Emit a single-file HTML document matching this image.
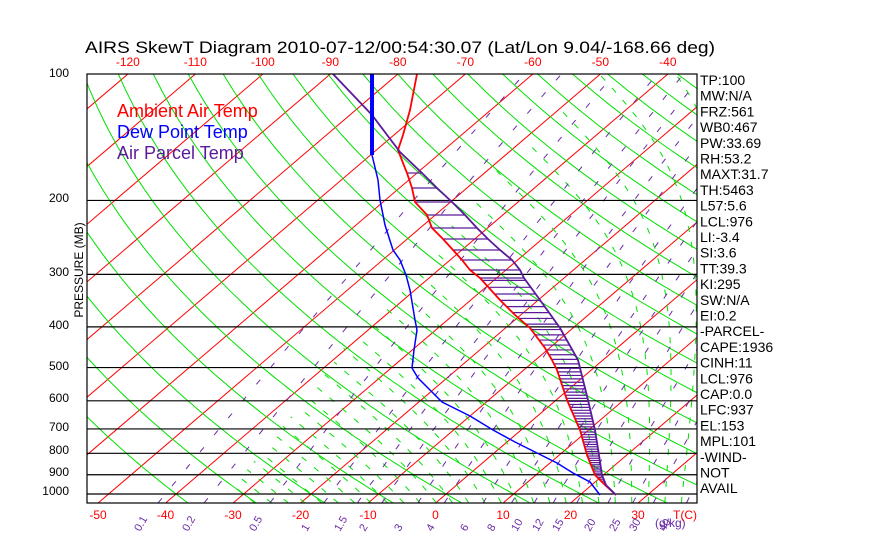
<!DOCTYPE html>
<html><head><meta charset="utf-8">
<style>
html,body{margin:0;padding:0;background:#fff;}
svg{display:block;font-family:"Liberation Sans",sans-serif;}
</style></head>
<body>
<svg id="s" width="870" height="560" xmlns="http://www.w3.org/2000/svg">
<defs><clipPath id="c"><rect x="87" y="74" width="610" height="429"/></clipPath></defs>
<rect width="870" height="560" fill="#fff"/>
<g id="grid" clip-path="url(#c)"></g>
<g id="data" clip-path="url(#c)"></g>
<rect x="87" y="74" width="610" height="429" fill="none" stroke="#000" stroke-width="1.2"/>
<text x="85" y="53" font-size="17" textLength="630" lengthAdjust="spacingAndGlyphs">AIRS SkewT Diagram 2010-07-12/00:54:30.07 (Lat/Lon 9.04/-168.66 deg)</text>
<text x="117" y="117" font-size="18" fill="#ff0000">Ambient Air Temp</text>
<text x="117" y="138" font-size="18" fill="#0000ff">Dew Point Temp</text>
<text x="117" y="159" font-size="18" fill="#5a1a9a">Air Parcel Temp</text>
<text transform="translate(83,270) rotate(-90)" font-size="12" text-anchor="middle">PRESSURE (MB)</text>
<g id="lab"></g>
</svg>
<script>
var NS="http://www.w3.org/2000/svg";
var X0=98,DX=6.75,S=1.171,YB=503,K=182.4;
function Y(p){return 74+K*Math.log(p/100);}
function X(T,p){return X0+DX*(T+50)+S*(YB-Y(p));}
var g=document.getElementById('grid'),d=document.getElementById('data'),lab=document.getElementById('lab');
function el(par,tag,at,txt){var e=document.createElementNS(NS,tag);for(var k in at)e.setAttribute(k,at[k]);if(txt!==undefined)e.textContent=txt;par.appendChild(e);return e;}
function pl(par,pts,st,w,da){var s=pts.map(function(q){return q[0].toFixed(1)+","+q[1].toFixed(1)}).join(" ");var a={points:s,fill:"none",stroke:st,"stroke-width":w};if(da)a["stroke-dasharray"]=da;el(par,"polyline",a);}
for(var T=-160;T<=50;T+=10){pl(g,[[X(T,1050),YB],[X(T,100),74]],"#ff0000",1);}
for(var th=-40;th<=220;th+=10){var pts=[];for(var p=1050;p>=100;p-=10){var t=(th+273.15)*Math.pow(p/1000,0.286)-273.15;pts.push([X(t,p),Y(p)]);}pl(g,pts,"#00e000",1);}
function es(t){return 6.112*Math.exp(17.67*t/(t+243.5));}
function rsf(t,p){return 0.622*es(t)/(p-es(t));}
function dT(t,p){var Tk=t+273.15;var rs=rsf(t,p);return (287*Tk+2.5e6*rs)/(p*(1004+2.5e6*2.5e6*rs*0.622/(287*Tk*Tk)));}
for(var tw=-30;tw<=40;tw+=2.5){var t=tw,pts=[[X(t,1000),Y(1000)]];
 for(var p=1000;p>100;p-=5){t=t-dT(t,p)*5;if(rsf(t,p-5)<0.00025)break;pts.push([X(t,p-5),Y(p-5)]);}
 var t2=tw,pts2=[];for(var p=1000;p<1050;p+=5){t2=t2+dT(t2,p)*5;pts2.push([X(t2,p+5),Y(p+5)]);}
 if(rsf(tw,1000)<0.00025)continue;
 pl(g,pts2.reverse().concat(pts),"#00e000",1,"6,10");}
var ws=[0.1,0.2,0.5,1,1.5,2,3,4,6,8,10,12,15,20,25,30,40];
var wl=[140,188,255,307,340,365,400,432,466,493,517,538,558,590,615,635,665];
ws.forEach(function(w,i){var pts=[];for(var p=1050;p>=100;p-=10){var e=w*p/(622+w);var l=Math.log(e/6.112);var td=243.5*l/(17.67-l);pts.push([X(td,p),Y(p)]);}pl(g,pts,"#6a2ca8",1,"6,16");
 el(lab,"text",{transform:"translate("+wl[i]+",532) rotate(-60)","font-size":"11",fill:"#6a2ca8"},String(w));});
el(lab,"text",{x:655,y:527,"font-size":"12",fill:"#6a2ca8"},"(g/kg)");
[200,300,400,500,600,700,800,900,1000].forEach(function(p){el(g,"line",{x1:87,x2:697,y1:Y(p),y2:Y(p),stroke:"#000","stroke-width":1.2});});
var pls=[[100,73],[200,198],[300,272],[400,325],[500,366],[600,398],[700,427],[800,450],[900,472],[1000,491]];
pls.forEach(function(q){el(lab,"text",{x:69,y:q[1]+4,"font-size":"12","text-anchor":"end"},String(q[0]));});
for(var T=-50;T<=30;T+=10){el(lab,"text",{x:X0+DX*(T+50),y:519,"font-size":"12",fill:"#ff0000","text-anchor":"middle"},String(T));}
el(lab,"text",{x:685,y:519,"font-size":"12",fill:"#ff0000","text-anchor":"middle"},"T(C)");
for(var T=-120;T<=-40;T+=10){el(lab,"text",{x:X(T,100),y:66,"font-size":"12",fill:"#ff0000","text-anchor":"middle"},String(T));}
var rt=["TP:100","MW:N/A","FRZ:561","WB0:467","PW:33.69","RH:53.2","MAXT:31.7","TH:5463","L57:5.6","LCL:976","LI:-3.4","SI:3.6","TT:39.3","KI:295","SW:N/A","EI:0.2","-PARCEL-","CAPE:1936","CINH:11","LCL:976","CAP:0.0","LFC:937","EL:153","MPL:101","-WIND-","NOT","AVAIL"];
rt.forEach(function(s,i){el(lab,"text",{x:700,y:85+i*15.7,"font-size":"14"},s);});
var red=[[417,74],[410,110],[403,135],[398,150],[403,163],[407,173],[412,188],[415,202],[427,215],[432,228],[443,239],[453,250],[462,260],[470,270],[480,278],[500,300],[515,315],[530,328],[545,348],[552,360],[557,370],[567,400],[580,430],[587,455],[595,475],[605,485],[616,495]];
var par=[[333,74],[372,115],[400,152],[422,173],[437,188],[452,202],[465,215],[477,228],[488,239],[500,250],[512,260],[520,270],[524,278],[540,300],[560,328],[578,360],[588,400],[595,430],[599,455],[602,475],[606,485],[616,495]];
var blu=[[372,155],[378,180],[380,200],[385,225],[393,250],[400,260],[406,275],[410,290],[415,320],[417,330],[414,350],[412,368],[418,378],[428,388],[442,402],[470,416],[493,430],[515,442],[537,453],[557,463],[573,473],[590,482],[600,495]];
function xat(a,y){for(var i=0;i<a.length-1;i++){if(y>=a[i][1]&&y<=a[i+1][1]){var f=(y-a[i][1])/(a[i+1][1]-a[i][1]||1);return a[i][0]+f*(a[i+1][0]-a[i][0]);}}return null;}
var hy=[173,188,202,215,228,239,250,260,270,278];
for(var p=310;p<=950;p+=(p<500?12:10))hy.push(Y(p));
hy.forEach(function(y){var xr=xat(red,y),xp=xat(par,y);if(xr!==null&&xp!==null&&xp>xr+1)el(d,"line",{x1:xr,x2:xp,y1:y,y2:y,stroke:"#5a1a9a","stroke-width":1.2});});
pl(d,red,"#ff0000",1.8);
pl(d,par,"#5a1a9a",1.8);
el(d,"line",{x1:372,x2:372,y1:74,y2:155,stroke:"#0000ff","stroke-width":4});
pl(d,blu,"#0000ff",1.5);
</script>
</body></html>
